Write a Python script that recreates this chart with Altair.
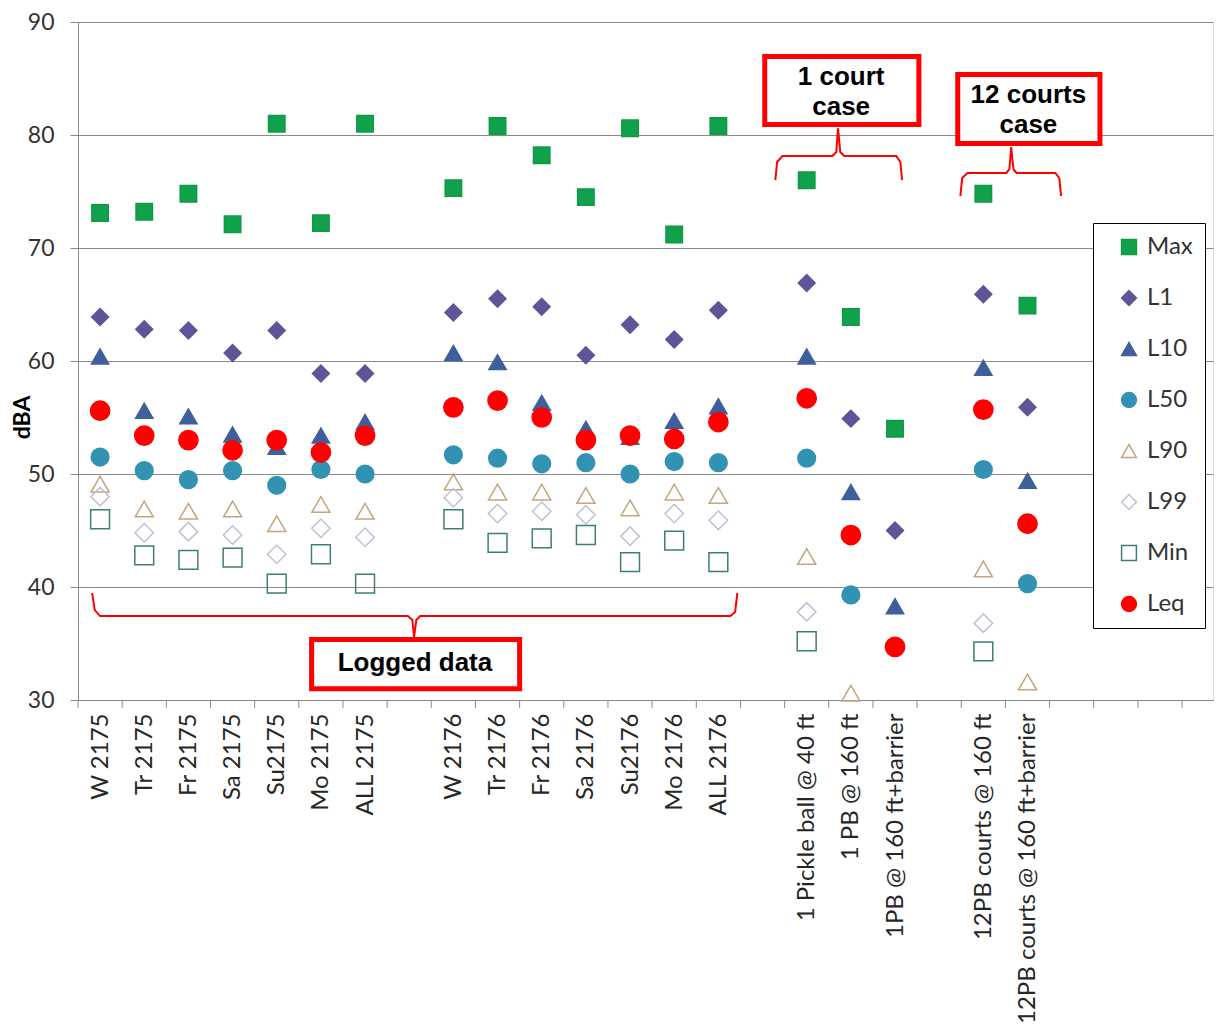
import json
import altair as alt
import pandas as pd

# ---------------- data ----------------
categories = ["W 2175", "Tr 2175", "Fr 2175", "Sa 2175", "Su2175", "Mo 2175", "ALL 2175", "",
              "W 2176", "Tr 2176", "Fr 2176", "Sa 2176", "Su2176", "Mo 2176", "ALL 2176", "",
              "1 Pickle ball @ 40 ft", "1 PB @ 160 ft", "1PB @ 160 ft+barrier", "",
              "12PB courts @ 160 ft", "12PB courts @ 160 ft+barrier", "", "", "", ""]

series_names = ["Max", "L1", "L10", "L50", "L90", "L99", "Min", "Leq"]

max_vals = [73.1, 73.2, 74.8, 72.1, 81.0, 72.2, 81.0, None,
            75.3, 80.8, 78.2, 74.5, 80.6, 71.2, 80.8, None,
            76.0, 63.9, 54.0, None, 74.8, 64.9]
l1_vals = [63.9, 62.8, 62.7, 60.7, 62.7, 58.9, 58.9, None,
           64.3, 65.5, 64.8, 60.5, 63.2, 61.9, 64.5, None,
           66.9, 54.9, 45.0, None, 65.9, 55.9]
l10_vals = [60.4, 55.6, 55.1, 53.5, 52.4, 53.4, 54.6, None,
            60.7, 59.9, 56.3, 54.0, 53.3, 54.7, 56.0, None,
            60.4, 48.4, 38.3, None, 59.4, 49.4]
l50_vals = [51.5, 50.3, 49.5, 50.3, 49.0, 50.4, 50.0, None,
            51.7, 51.4, 50.9, 51.0, 50.0, 51.1, 51.0, None,
            51.4, 39.3, None, None, 50.4, 40.3]
l90_vals = [49.1, 46.9, 46.7, 46.9, 45.6, 47.3, 46.7, None,
            49.3, 48.4, 48.4, 48.1, 47.0, 48.4, 48.1, None,
            42.7, 30.6, None, None, 41.6, 31.6]
l99_vals = [48.0, 44.8, 44.9, 44.6, 42.9, 45.2, 44.4, None,
            47.9, 46.5, 46.7, 46.4, 44.5, 46.5, 45.9, None,
            37.8, None, None, None, 36.8, None]
min_vals = [46.0, 42.8, 42.4, 42.6, 40.3, 42.9, 40.3, None,
            46.0, 43.9, 44.3, 44.6, 42.2, 44.1, 42.2, None,
            35.2, None, None, None, 34.3, None]
leq_vals = [55.6, 53.4, 53.0, 52.1, 53.0, 51.9, 53.4, None,
            55.9, 56.5, 55.0, 53.0, 53.4, 53.1, 54.6, None,
            56.7, 44.6, 34.7, None, 55.7, 45.6]

all_series = [max_vals, l1_vals, l10_vals, l50_vals, l90_vals, l99_vals, min_vals, leq_vals]

# marker styles
shapes = ["square", "diamond", "triangle-up", "circle", "triangle-up", "diamond", "square", "circle"]
fills = ["#12A14B", "#5F5497", "#3F5F9C", "#3292B2", "transparent", "transparent", "transparent", "#FF0000"]
strokes = ["#0F9A46", "#5F5497", "#3F5F9C", "#3292B2", "#C4A57E", "#BFC0D6", "#3E7E78", "#FF0000"]
sizes = [270, 370, 200, 290, 350, 250, 300, 360]
size_keys = [s + "_size" for s in series_names]

# category boundaries (tick marks between categories)
boundaries = [i - 0.5 for i in range(26)]

# annotations (in data coordinates: category index, dBA)
box_labels = ["Logged data", "1 court\ncase", "12 courts\ncase"]
box_x0 = [4.79, 15.05, 19.42]
box_x1 = [9.50, 18.54, 22.64]
box_y0 = [31.0, 80.93, 79.25]
box_y1 = [35.35, 86.95, 85.35]
text_x = [7.13, 16.78, 21.02]
text_y = [33.3, 85.13, 83.54]

brace_logged_x = [-0.18, -0.12, 0.0, 6.97, 7.07, 7.11, 7.16, 7.25, 14.27, 14.38, 14.43]
brace_logged_y = [39.47, 37.96, 37.43, 37.43, 37.08, 35.58, 37.08, 37.43, 37.43, 37.79, 39.47]
brace_one_x = [15.29, 15.33, 15.45, 16.58, 16.67, 16.71, 16.76, 16.85, 18.03, 18.12, 18.16]
brace_one_y = [76.02, 77.61, 78.14, 78.14, 78.50, 80.60, 78.50, 78.14, 78.14, 77.61, 76.02]
brace_twelve_x = [19.48, 19.52, 19.64, 20.52, 20.59, 20.63, 20.68, 20.75, 21.63, 21.72, 21.76]
brace_twelve_y = [74.60, 76.19, 76.64, 76.64, 76.99, 78.94, 76.99, 76.64, 76.64, 76.19, 74.60]

# ---------------- tables ----------------
rows = []
for name, skey, vals in zip(series_names, size_keys, all_series):
    for i, v in enumerate(vals):
        if v is not None:
            rows.append({"idx": i, "category": categories[i], "series": name,
                         "skey": skey, "value": v})
points_df = pd.DataFrame(rows)

brace_rows = []
for gname, xs, ys in [("logged", brace_logged_x, brace_logged_y),
                      ("one", brace_one_x, brace_one_y),
                      ("twelve", brace_twelve_x, brace_twelve_y)]:
    for k, (xv, yv) in enumerate(zip(xs, ys)):
        brace_rows.append({"g": gname, "ord": k, "bx": xv, "by": yv})
brace_df = pd.DataFrame(brace_rows)

box_df = pd.DataFrame({"label": box_labels, "x0": box_x0, "x1": box_x1,
                       "y0": box_y0, "y1": box_y1, "tx": text_x, "ty": text_y})

tick_df = pd.DataFrame({"b": boundaries})

# ---------------- chart ----------------
GRID = "#8A8A8A"
xscale = alt.Scale(domain=[-0.5, 25.2], nice=False, zero=False)
yscale = alt.Scale(domain=[30, 90], nice=False, zero=False)

label_expr = json.dumps(categories) + "[datum.value]"

x_axis = alt.Axis(values=list(range(22)), labelExpr=label_expr, tickSize=0, domain=True,
                  domainColor=GRID, grid=False, labelAngle=270, labelAlign="right",
                  labelBaseline="middle", labelPadding=13, labelFontSize=24, labelFont="Lato",
                  labelColor="#262626", labelOverlap=False, labelLimit=500, title=None,
                  orient="bottom")
y_axis = alt.Axis(values=[30, 40, 50, 60, 70, 80, 90], grid=True, gridColor=GRID, tickSize=8,
                  tickColor=GRID, domain=True, domainColor=GRID, labelFontSize=23, labelFont="Lato",
                  labelColor="#333333", labelPadding=16, title="dBA", titleFont="Lato",
                  titleFontSize=23, titleFontWeight="bold", titleColor="#000000",
                  titleX=-56, titleY=395, titleAngle=270, titleAlign="center",
                  titleBaseline="middle", orient="left")

legend = alt.Legend(title=None, orient="none", legendX=1015, legendY=201, strokeColor="#000000",
                    fillColor="#FFFFFF", padding=12, symbolOffset=12, labelFontSize=24,
                    labelFont="Lato", labelColor="#333333", rowPadding=27, symbolSize=220,
                    symbolStrokeWidth=1.5, labelOffset=6)

points = alt.Chart(points_df).mark_point(opacity=1, strokeWidth=1.5).encode(
    x=alt.X("idx:Q", scale=xscale, axis=x_axis),
    y=alt.Y("value:Q", scale=yscale, axis=y_axis),
    shape=alt.Shape("series:N", scale=alt.Scale(domain=series_names, range=shapes), legend=legend),
    fill=alt.Fill("series:N", scale=alt.Scale(domain=series_names, range=fills), legend=legend),
    stroke=alt.Stroke("series:N", scale=alt.Scale(domain=series_names, range=strokes), legend=legend),
    size=alt.Size("skey:N", scale=alt.Scale(domain=size_keys, range=sizes), legend=None),
)

ticks = alt.Chart(tick_df).mark_rule(color=GRID, strokeWidth=1, y2Offset=8).encode(
    x=alt.X("b:Q", scale=xscale, axis=x_axis),
    y=alt.datum(30, scale=yscale, axis=y_axis),
    y2=alt.datum(30),
)

braces = alt.Chart(brace_df).mark_line(color="#FF0000", strokeWidth=2).encode(
    x=alt.X("bx:Q", scale=xscale, axis=x_axis),
    y=alt.Y("by:Q", scale=yscale, axis=y_axis),
    detail="g:N",
    order="ord:Q",
)

boxes = alt.Chart(box_df).mark_rect(fill="#FFFFFF", stroke="#FF0000", strokeWidth=5).encode(
    x=alt.X("x0:Q", scale=xscale, axis=x_axis),
    x2="x1:Q",
    y=alt.Y("y0:Q", scale=yscale, axis=y_axis),
    y2="y1:Q",
)

texts = alt.Chart(box_df).mark_text(font="Liberation Sans", fontSize=26, fontWeight="bold",
                                    color="#000000", lineBreak="\n", lineHeight=30,
                                    align="center", baseline="middle").encode(
    x=alt.X("tx:Q", scale=xscale, axis=x_axis),
    y=alt.Y("ty:Q", scale=yscale, axis=y_axis),
    text="label:N",
)

chart = alt.layer(points, ticks, braces, boxes, texts).properties(
    width=1135, height=678,
    autosize=alt.AutoSizeParams(type="none"),
    padding={"left": 70, "top": 14, "right": 1, "bottom": 330},
).configure_view(strokeOpacity=0).configure(background="#FFFFFF")

chart.save("out.html", embed_options={"renderer": "svg", "actions": False})
